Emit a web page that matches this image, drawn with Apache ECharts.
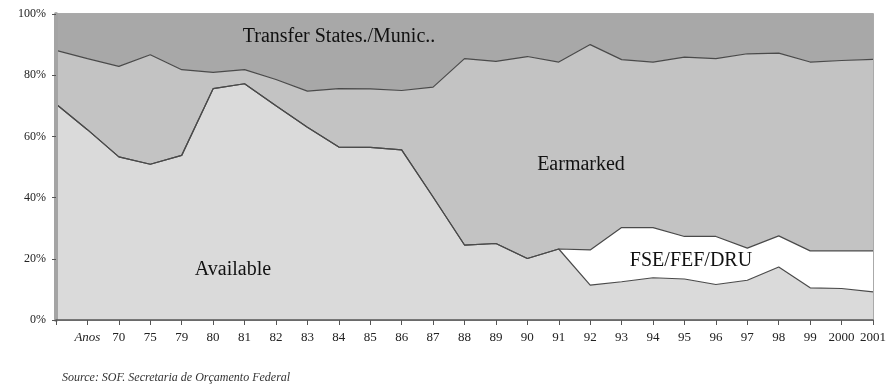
<!DOCTYPE html>
<html>
<head>
<meta charset="utf-8">
<script src="https://cdn.jsdelivr.net/npm/echarts@6/dist/echarts.min.js"></script>
<style>
html,body{margin:0;padding:0;background:#fff;}
#chart{width:890px;height:388px;}
</style>
</head>
<body>
<div id="chart"></div>
<script>
// Categories (first position is an unlabeled starting point)
var categories = ['', 'Anos', '70', '75', '79', '80', '81', '82', '83', '84', '85', '86', '87', '88', '89', '90', '91', '92', '93', '94', '95', '96', '97', '98', '99', '2000', '2001'];
// Shares (%)
var available = [70.6, 62.2, 53.3, 50.9, 53.8, 75.6, 77.2, 70.0, 63.0, 56.5, 56.4, 55.6, 40.2, 24.5, 25.0, 20.1, 23.2, 11.4, 12.5, 13.8, 13.4, 11.6, 13.0, 17.3, 10.5, 10.3, 9.2];
var fse = [0, 0, 0, 0, 0, 0, 0, 0, 0, 0, 0, 0, 0, 0, 0, 0, 0, 11.5, 17.7, 16.4, 13.9, 15.7, 10.5, 10.2, 12.1, 12.3, 13.4];
var earmarked = [17.5, 23.2, 29.6, 35.8, 28.0, 5.3, 4.6, 8.6, 11.8, 19.1, 19.1, 19.4, 35.9, 60.9, 59.5, 66.0, 61.1, 67.1, 54.9, 54.1, 58.6, 58.1, 63.5, 59.7, 61.7, 62.2, 62.6];
var transfer = [11.9, 14.6, 17.1, 13.3, 18.2, 19.1, 18.2, 21.4, 25.2, 24.4, 24.5, 25.0, 23.9, 14.6, 15.5, 13.9, 15.7, 10.0, 14.9, 15.7, 14.1, 14.6, 13.0, 12.8, 15.7, 15.2, 14.8];
var yTicks = [0, 20, 40, 60, 80, 100];

var serif = '"Liberation Serif", "DejaVu Serif", serif';
var chart = echarts.init(document.getElementById('chart'), null, {renderer: 'canvas'});

function areaSeries(name, data, color, lineColor, lineWidth) {
  return {
    name: name,
    type: 'line',
    stack: 'total',
    data: data,
    symbol: 'none',
    smooth: false,
    lineStyle: {color: lineColor, width: lineWidth},
    areaStyle: {color: color, opacity: 1},
    itemStyle: {color: color},
    emphasis: {disabled: true},
    silent: true,
    z: 2
  };
}

chart.setOption({
  animation: false,
  backgroundColor: '#ffffff',
  grid: {left: 56, right: 17, top: 14, bottom: 68, show: true, borderColor: '#8f8f8f', borderWidth: 1.5, backgroundColor: 'transparent'},
  xAxis: {
    type: 'category',
    data: categories,
    boundaryGap: false,
    axisLine: {show: true, lineStyle: {color: '#555', width: 1.5}},
    axisTick: {show: true, interval: 0, length: 5, lineStyle: {color: '#555'}},
    axisLabel: {
      interval: 0, margin: 11, color: '#222', fontFamily: serif, fontSize: 13,
      formatter: function (v) { return v === 'Anos' ? '{it|Anos}' : v; },
      rich: {it: {fontStyle: 'italic', fontFamily: serif, fontSize: 13, color: '#222'}}
    },
    splitLine: {show: false},
    z: 5
  },
  yAxis: {
    type: 'value',
    min: 0, max: 100, interval: 20,
    axisLine: {show: true, lineStyle: {color: '#a4a4a4', width: 4}},
    axisTick: {show: true, length: 4, lineStyle: {color: '#555'}},
    axisLabel: {margin: 10, color: '#222', fontFamily: serif, fontSize: 12, formatter: function (v) { return yTicks.indexOf(v) >= 0 ? v + '%' : ''; }},
    splitLine: {show: false},
    z: 5
  },
  series: [
    areaSeries('Available', available, '#dadada', '#4a4a4a', 1.2),
    areaSeries('FSE/FEF/DRU', fse, '#ffffff', '#4a4a4a', 1.2),
    areaSeries('Earmarked', earmarked, '#c3c3c3', '#4a4a4a', 1.2),
    areaSeries('Transfer States./Munic..', transfer, '#a8a8a8', '#9a9a9a', 0)
  ],
  graphic: [
    {type: 'text', x: 339, y: 37, style: {text: 'Transfer States./Munic..', fill: '#111', font: '20px ' + serif, textAlign: 'center', textVerticalAlign: 'middle'}, z: 10},
    {type: 'text', x: 581, y: 165, style: {text: 'Earmarked', fill: '#111', font: '20px ' + serif, textAlign: 'center', textVerticalAlign: 'middle'}, z: 10},
    {type: 'text', x: 691, y: 261, style: {text: 'FSE/FEF/DRU', fill: '#111', font: '20px ' + serif, textAlign: 'center', textVerticalAlign: 'middle'}, z: 10},
    {type: 'text', x: 233, y: 270, style: {text: 'Available', fill: '#111', font: '20px ' + serif, textAlign: 'center', textVerticalAlign: 'middle'}, z: 10},
    {type: 'text', x: 62, y: 378, style: {text: 'Source: SOF. Secretaria de Orçamento Federal', fill: '#333', font: 'italic 12px ' + serif, textAlign: 'left', textVerticalAlign: 'middle'}, z: 10}
  ]
});
</script>
</body>
</html>
